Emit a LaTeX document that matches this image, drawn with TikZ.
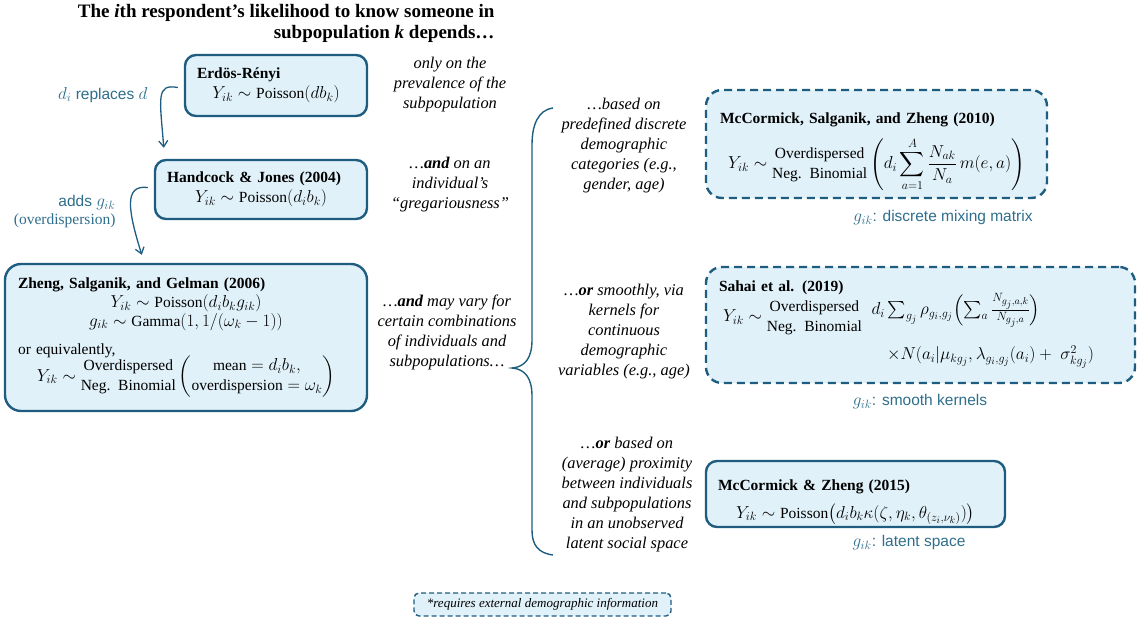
\documentclass[tikz,border=0pt]{standalone}
\usepackage{amsmath}
\usepackage{fontspec}
\setmainfont{Liberation Serif}
\setsansfont{Liberation Sans}
\usetikzlibrary{arrows.meta}
\definecolor{boxline}{RGB}{31,93,128}
\definecolor{boxfill}{RGB}{224,241,249}
\definecolor{labtext}{RGB}{46,110,140}
\DeclareMathSizes{15.5}{17.5}{12.5}{10}
\newcommand{\odnb}{\begin{array}{@{}c@{}}\text{Overdispersed}\\\text{Neg. Binomial}\end{array}}
\newcommand{\ctrline}[1]{\makebox[\hsize]{#1}}

\begin{document}
\begin{tikzpicture}[x=1pt,y=-1pt,
	model/.style={draw=boxline, fill=boxfill, line width=2.4pt, rounded corners=11pt, inner sep=0pt, align=left, font=\fontsize{15.5}{19.5}\selectfont},
	extdemo/.style={model, dash pattern=on 8pt off 5pt},
	remark/.style={align=center, font=\fontsize{16.4}{20}\selectfont\itshape},
	gik/.style={text=labtext, font=\fontsize{15.5}{18}\selectfont\sffamily},
	flow/.style={draw=boxline, line width=1.3pt, -{Straight Barb[length=6pt,width=9pt]}}]
	\useasboundingbox (0,0) rectangle (1138,627);
	\node[anchor=north east, align=right, font=\fontsize{19}{21}\selectfont\bfseries] (title) at (498,1)
		{The \textit{i}th respondent’s likelihood to know someone in\\subpopulation \textit{k} depends…};
	% models on the left
	\node[model, minimum width=182, minimum height=61, text width=158] (er) at (276,85.5)
		{\textbf{Erdös-Rényi}\\\ctrline{$Y_{ik}\sim\text{Poisson}(db_k)$}};
	\node[model, minimum width=212, minimum height=59, text width=188] (hj) at (261,189.5)
		{\textbf{Handcock \& Jones (2004)}\\\ctrline{$Y_{ik}\sim\text{Poisson}(d_ib_k)$}};
	\node[model, rounded corners=16pt, minimum width=362, minimum height=147, text width=336] (zsg) at (186,337.5)
		{\textbf{Zheng, Salganik, and Gelman (2006)}\\
		\ctrline{$Y_{ik}\sim\text{Poisson}(d_ib_kg_{ik})$}\\[-1pt]
		\ctrline{$g_{ik}\sim\text{Gamma}(1,1/(\omega_k-1))$}\\[9pt]
		or equivalently,\\[-3pt]
		\ctrline{$Y_{ik}\sim\odnb\left(\begin{array}{@{}c@{}}\text{mean}=d_ib_k,\\\text{overdispersion}=\omega_k\end{array}\right)$}};
	% models on the right
	\node[extdemo, rounded corners=16pt, minimum width=341, minimum height=108, text width=313] (msz) at (876.5,144)
		{\textbf{McCormick, Salganik, and Zheng (2010)}\\[9pt]
		\ctrline{$Y_{ik}\sim\odnb\left(d_i\displaystyle\sum_{a=1}^{A}\frac{N_{ak}}{N_a}\,m(e,a)\right)$}\par\kern-16pt};
	\node[extdemo, rounded corners=16pt, minimum width=429, minimum height=116, text width=403] (sahai) at (920.5,325)
		{\textbf{Sahai et al. (2019)}\\[-3pt]
		\hspace*{4pt}$Y_{ik}\sim\odnb\;\;\raisebox{7pt}{$\begin{array}[t]{@{}l@{}}
			d_i\sum_{g_j}\rho_{g_i,g_j}\Bigl(\sum_a\tfrac{N_{g_j,a,k}}{N_{g_j,a}}\Bigr)\\[25pt]
			\quad\times N(a_i|\mu_{kg_j},\lambda_{g_i,g_j}(a_i)+\;\sigma^2_{kg_j})\end{array}$}$};
	\node[model, minimum width=299, minimum height=66, text width=275] (mz) at (855.5,494)
		{\textbf{McCormick \& Zheng (2015)}\\[8pt]
		\ctrline{$Y_{ik}\sim\text{Poisson}\bigl(d_ib_k\kappa(\zeta,\eta_k,\theta_{(z_i,\nu_k)})\bigr)$}\par\kern-16pt};
	\node[extdemo, line width=1.4pt, dash pattern=on 5pt off 3pt, rounded corners=5pt, minimum width=257, minimum height=23, align=center, font=\fontsize{13}{15}\selectfont\itshape] (footnote) at (542.5,604.5)
		{*requires external demographic information};
	% descriptions
	\node[remark] (only) at (450,85) {only on the\\prevalence of the\\subpopulation};
	\node[remark] (greg) at (450,185) {…\textbf{and} on an\\individual’s\\“gregariousness”};
	\node[remark] (vary) at (447,332) {…\textbf{and} may vary for\\certain combinations\\of individuals and\\subpopulations…};
	\node[remark] (discrete) at (624,146) {…based on\\predefined discrete\\demographic\\categories (e.g.,\\gender, age)};
	\node[remark] (smooth) at (624,332) {…\textbf{or} smoothly, via\\kernels for\\continuous\\demographic\\variables (e.g., age)};
	\node[remark] (space) at (627,495) {…\textbf{or} based on\\(average) proximity\\between individuals\\and subpopulations\\in an unobserved\\latent social space};
	\node[gik] (mix) at (943,218) {$g_{ik}$: discrete mixing matrix};
	\node[gik] (kern) at (920,402) {$g_{ik}$: smooth kernels};
	\node[gik] (lat) at (909,543) {$g_{ik}$: latent space};
	% brace
	\draw[boxline, line width=1.4pt] (553,108) .. controls (538,110) and (532,125) .. (532,145) -- (532,340)
		.. controls (532,358) and (525,367) .. (512,368) .. controls (525,369) and (532,378) .. (532,396)
		-- (532,530) .. controls (532,545) and (538,553) .. (553,555);
	% arrows between models
	\coordinate (a1s) at ([shift={(-6,2)}]er.west);
	\coordinate (a1e) at ([shift={(10,-11)}]hj.north west);
	\coordinate (a2s) at ([shift={(-6,-2)}]hj.west);
	\coordinate (a2e) at ([shift={(138,-8)}]zsg.north west);
	\draw[flow] (a1s) .. controls +(-22,-4) and +(-4,-50) .. (a1e);
	\draw[flow] (a2s) .. controls +(-24,-3) and +(-14,-45) .. (a2e);
	\node[gik, anchor=east] (repl) at (151,95) {$d_i$ replaces $d$};
	\node[gik, anchor=east, align=right] (adds) at (119,212) {adds $g_{ik}$\\{\rmfamily (overdispersion)}};
\end{tikzpicture}
\end{document}
